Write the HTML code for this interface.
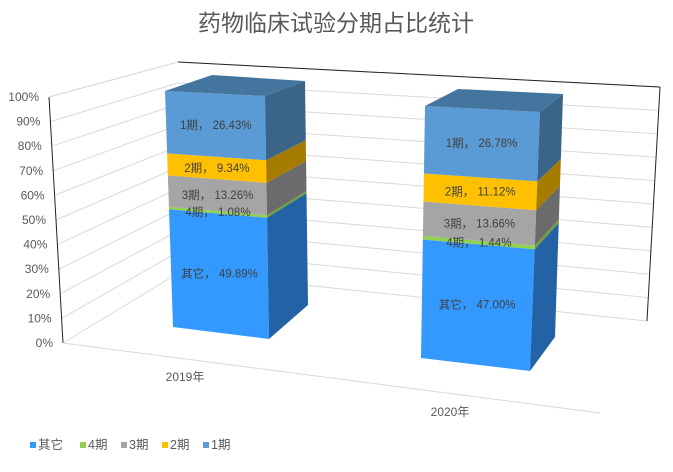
<!DOCTYPE html>
<html><head><meta charset="utf-8"><style>
html,body{margin:0;padding:0;background:#fff;}
svg{display:block;font-family:"Liberation Sans","Noto Sans CJK SC",sans-serif;}
</style></head><body>
<svg id="chart" width="673" height="472" viewBox="0 0 673 472">
<text x="336" y="31" text-anchor="middle" font-size="23" fill="#595959">药物临床试验分期占比统计</text>
<g id="walls"></g>
<g id="bars"></g>
<g id="labels"></g>
<g id="legend"></g>
</svg>
<script>
const categories = ["2019年", "2020年"];
const seriesNames = ["其它", "4期", "3期", "2期", "1期"];
const values2019 = [49.89, 1.08, 13.26, 9.34, 26.43];
const values2020 = [47.00, 1.44, 13.66, 11.12, 26.78];
const tickLabels = ["0%","10%","20%","30%","40%","50%","60%","70%","80%","90%","100%"];

const seriesValues = [values2019, values2020];
const front = ["#3399FF","#92D050","#A5A5A5","#FFC000","#5B9BD5"];
const side = ["#2462A6","#6F9E3A","#6B6B6B","#A67C00","#3A6589"];
const svg = document.getElementById('chart');
const NS = "http://www.w3.org/2000/svg";
function lerp(a,b,t){return [a[0]+(b[0]-a[0])*t, a[1]+(b[1]-a[1])*t];}
function mk(tag, attrs, parent){const e=document.createElementNS(NS,tag);for(const k in attrs)e.setAttribute(k,attrs[k]);parent.appendChild(e);return e;}
const walls=document.getElementById('walls');
// wall geometry
const LA0=[63,343], LA1=[49,97], BL0=[180,272], BL1=[178,62], BR0=[647,321], BR1=[660,87];
function yFrac(v){return v/100;}
for(let i=0;i<tickLabels.length;i++){
  const t=i/(tickLabels.length-1);
  const p=lerp(LA0,LA1,t), q=lerp(BL0,BL1,t), r=lerp(BR0,BR1,t);
  const gl=mk('polyline',{points:`${p} ${q} ${r}`,fill:'none',stroke:'#D9D9D9','stroke-width':1},walls);
  
  
  const tl=mk('text',{x:p[0]-10,y:p[1]+4,'text-anchor':'end','font-size':12,fill:'#595959'},walls);
  tl.textContent=tickLabels[i];
  
  
}
mk('line',{x1:LA0[0],y1:LA0[1],x2:LA1[0],y2:LA1[1],stroke:'#222','stroke-width':1},walls);
mk('line',{x1:BL1[0],y1:BL1[1],x2:BR1[0],y2:BR1[1],stroke:'#222','stroke-width':1},walls);
mk('line',{x1:BR0[0],y1:BR0[1],x2:BR1[0],y2:BR1[1],stroke:'#222','stroke-width':1},walls);
mk('line',{x1:BL1[0],y1:BL1[1],x2:LA1[0],y2:LA1[1],stroke:'#D9D9D9','stroke-width':1},walls);
mk('line',{x1:LA0[0],y1:LA0[1],x2:600,y2:413,stroke:'#D9D9D9','stroke-width':1},walls);
// bar geometry: front TL, TR, BL, BR, backTR, backBR, backTL
const barGeo=[
 {tl:[165,91],tr:[265,96],bl:[173,327],br:[269,339],btr:[305,81],bbr:[308,305],btl:[212,75],lab:[185,381]},
 {tl:[425,106],tr:[540,112],bl:[421,358],br:[530,371],btr:[563,94],bbr:[555,337],btl:[458,89],lab:[450,416]}
];
const bars=document.getElementById('bars'), labels=document.getElementById('labels');
categories.forEach((cat,ci)=>{
  const g=barGeo[ci], vals=seriesValues[ci];
  let cum=0;
  vals.forEach((v,si)=>{
    const t0=yFrac(cum), t1=yFrac(cum+v);
    const a=lerp(g.bl,g.tl,t0), b=lerp(g.br,g.tr,t0), c=lerp(g.br,g.tr,t1), d=lerp(g.bl,g.tl,t1);
    const e=lerp(g.bbr,g.btr,t0), f=lerp(g.bbr,g.btr,t1);
    const fr=mk('polygon',{points:`${a} ${b} ${c} ${d}`,fill:front[si]},bars);
    
    
    const sd=mk('polygon',{points:`${b} ${e} ${f} ${c}`,fill:side[si]},bars);
    
    
    const mid=lerp(lerp(g.bl,g.tl,(t0+t1)/2),lerp(g.br,g.tr,(t0+t1)/2),0.5);
    const lb=mk('text',{x:mid[0],y:mid[1]+4,'text-anchor':'middle','font-size':11.5,fill:'#404040'},labels);
    lb.textContent=seriesNames[si]+'， '+v.toFixed(2)+'%';
    
    
    cum+=v;
  });
  const top=mk('polygon',{points:`${g.tl} ${g.tr} ${g.btr} ${g.btl}`,fill:'#44759F'},bars);
  
  
  const xl=mk('text',{x:g.lab[0],y:g.lab[1],'text-anchor':'middle','font-size':12,fill:'#595959'},labels);
  xl.textContent=cat;
  
  
});
const legend=document.getElementById('legend');
const lx=[30,80,121,162,203];
seriesNames.forEach((n,i)=>{
  const r=mk('rect',{x:lx[i],y:442,width:6,height:6,fill:front[i]},legend);
  
  
  const t=mk('text',{x:lx[i]+8,y:449,'font-size':12.5,fill:'#595959'},legend);
  t.textContent=n;
  
  
});
</script>
</body></html>
